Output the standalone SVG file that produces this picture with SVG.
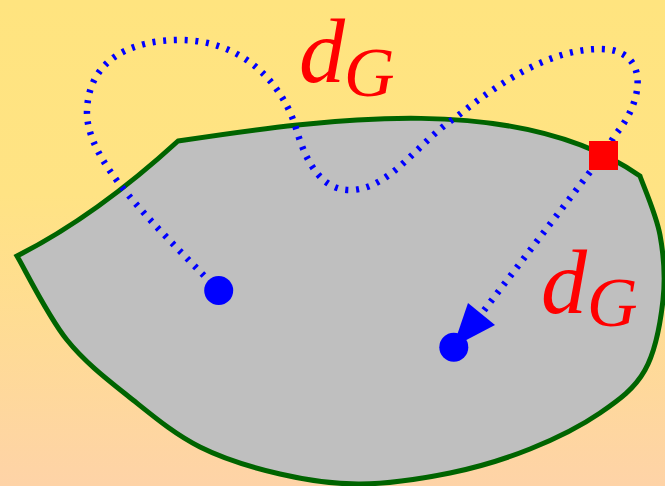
<svg xmlns="http://www.w3.org/2000/svg" width="665" height="486" viewBox="0 0 665 486">
  <defs>
    <linearGradient id="bg" x1="0" y1="0" x2="0" y2="1">
      <stop offset="0" stop-color="#FFE47F"/>
      <stop offset="0.4" stop-color="#FFE384"/>
      <stop offset="1" stop-color="#FED3A7"/>
    </linearGradient>
    <style>
      .region { fill: #BFBFBF; stroke: #006400; stroke-width: 5; stroke-linejoin: miter; }
      .dotted { fill: none; stroke: #0000FF; stroke-width: 6.5; stroke-dasharray: 3 7.7; stroke-linecap: butt; }
      .pt { fill: #0000FF; }
      .lbl { fill: #FF0000; font-family: "Liberation Serif", "Times New Roman", serif; font-style: italic; }
    </style>
  </defs>
  <rect x="0" y="0" width="665" height="486" fill="url(#bg)"/>
  <g id="region">
    <path class="region" d="M17,256 Q96,216 178,141 C330,118 520,92 640,176 C643.3,185.8 656.2,214.3 660,235 C663.8,255.7 665.5,277.5 663,300 C660.5,322.5 655.5,351.2 645,370 C634.5,388.8 619.2,399.8 600,413 C580.8,426.2 555,439 530,449 C505,459 478.3,467.2 450,473 C421.7,478.8 388.3,483.8 360,484 C331.7,484.2 306.7,480.2 280,474 C253.3,467.8 224.5,459.3 200,447 C175.5,434.7 155.2,417.8 133,400 C110.8,382.2 86.3,364 67,340 C47.7,316 25.3,270 17,256 Z"/>
  </g>
  <g id="connectors">
    <path class="dotted" d="M219,291 C150,220 85,160 87,110 C89,60 130,40 180,40 C240,40 280,80 295,125 C305,160 320,190 350,190 C390,190 420,140 455,118 C500,82 550,49 600,49 C650,49 645,100 615,135 L603,155"/>
    <path class="dotted" d="M603,155 L482,313"/>
    <polygon class="pt" points="468,303 495,325 453,347"/>
  </g>
  <g id="p1"><circle class="pt" cx="218.7" cy="290.5" r="14.5"/></g>
  <g id="p2"><circle class="pt" cx="453.8" cy="347.2" r="14.5"/></g>
  <g id="proj"><rect x="589" y="141" width="29" height="29" fill="#FF0000"/></g>
  <g id="label-top">
    <text class="lbl"><tspan x="299" y="82" font-size="92">d</tspan><tspan x="344" y="96" font-size="70">G</tspan></text>
  </g>
  <g id="label-right">
    <text class="lbl"><tspan x="541" y="313" font-size="92">d</tspan><tspan x="587" y="326" font-size="70">G</tspan></text>
  </g>
</svg>
